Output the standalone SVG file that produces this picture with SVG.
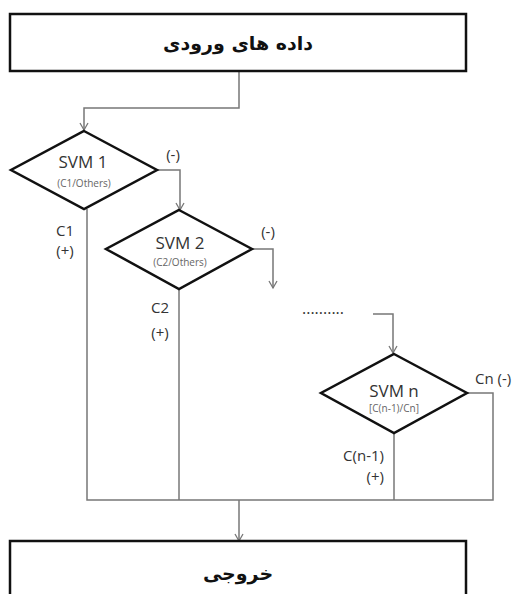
<svg xmlns="http://www.w3.org/2000/svg" width="524" height="594" viewBox="0 0 524 594">
<style>
.box{fill:#fff;stroke:#111;stroke-width:2.5}
.dia{fill:#fff;stroke:#111;stroke-width:2.5;stroke-linejoin:miter}
.con{fill:none;stroke:#777;stroke-width:1.5}
.t{font-family:"Open Sans","Liberation Sans",sans-serif;fill:#333;text-anchor:middle}
.big{font-size:17px}
.small{font-size:10px;fill:#666}
.lab{font-family:"Open Sans","Liberation Sans",sans-serif;fill:#333;font-size:15px}
.fa{font-family:"DejaVu Sans","Noto Sans",sans-serif;font-weight:bold;font-size:19px;fill:#111;text-anchor:middle}
</style>
<defs>
<marker id="arr" markerWidth="12" markerHeight="12" refX="10" refY="6" orient="auto" markerUnits="userSpaceOnUse" viewBox="0 0 12 12">
<polyline points="3,2 10,6 3,10" fill="none" stroke="#777" stroke-width="1.3"/>
</marker>
</defs>
<rect width="524" height="594" fill="#fff"/>
<g id="connectors">
<polyline class="con" points="239,72 239,108 84,108 84,130" marker-end="url(#arr)"/>
<polyline class="con" points="157,170 180,170 180,210" marker-end="url(#arr)"/>
<polyline class="con" points="252,249 273,249 273,288" marker-end="url(#arr)"/>
<polyline class="con" points="373,314 393,314 393,353" marker-end="url(#arr)"/>
<polyline class="con" points="467,393 493,393 493,500 87,500 87,209"/>
<line class="con" x1="179" y1="289" x2="179" y2="500"/>
<line class="con" x1="394" y1="433" x2="394" y2="500"/>
<polyline class="con" points="239,500 239,541" marker-end="url(#arr)"/>
<text class="lab" x="173" y="160" text-anchor="middle">(-)</text>
<text class="lab" x="268" y="237" text-anchor="middle">(-)</text>
<text class="lab" x="65" y="236" text-anchor="middle">C1</text>
<text class="lab" x="65" y="256" text-anchor="middle">(+)</text>
<text class="lab" x="160" y="313" text-anchor="middle">C2</text>
<text class="lab" x="160" y="338" text-anchor="middle">(+)</text>
<text class="lab" x="384" y="461" text-anchor="end">C(n-1)</text>
<text class="lab" x="384" y="482" text-anchor="end">(+)</text>
<text class="lab" x="475" y="384">Cn  (-)</text>
<text class="lab" x="323" y="314" text-anchor="middle" style="font-size:16px">..........</text>
</g>
<g id="input">
<rect class="box" x="10" y="14" width="456" height="57"/>
<text class="fa" x="238" y="50" direction="rtl">داده های ورودی</text>
</g>
<g id="svm1">
<polygon class="dia" points="84,131 157,170 84,209 11,170"/>
<text class="t big" x="83" y="168">SVM 1</text>
<text class="t small" x="84" y="187">(C1/Others)</text>
</g>
<g id="svm2">
<polygon class="dia" points="179,210 252,249 179,289 106,249"/>
<text class="t big" x="180" y="249">SVM 2</text>
<text class="t small" x="180" y="266">(C2/Others)</text>
</g>
<g id="svmn">
<polygon class="dia" points="394,354 467,393 394,433 321,393"/>
<text class="t big" x="394" y="397">SVM n</text>
<text class="t small" x="394" y="412">[C(n-1)/Cn]</text>
</g>
<g id="output">
<rect class="box" x="10" y="541" width="456" height="70"/>
<text class="fa" x="238" y="580" direction="rtl">خروجی</text>
</g>
</svg>
